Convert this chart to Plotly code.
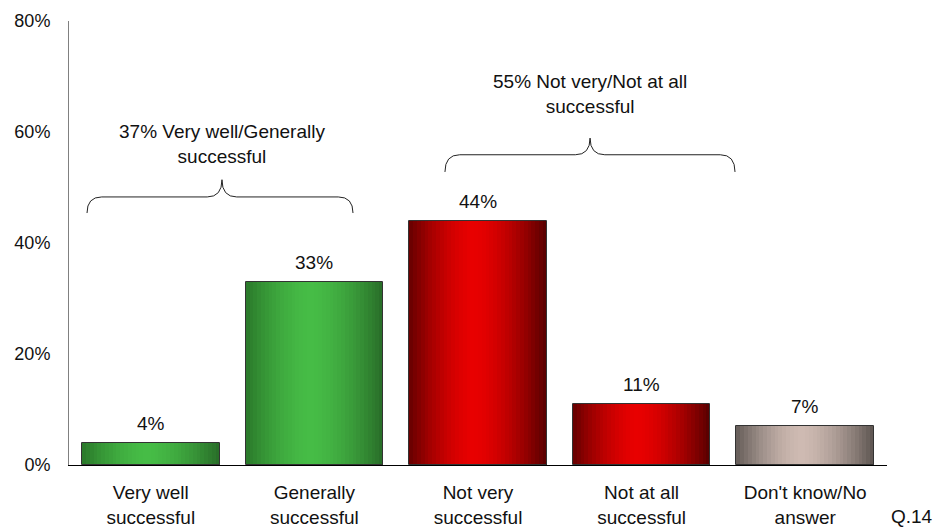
import plotly.graph_objects as go

# ---- data ----
categories = ["Very well<br>successful", "Generally<br>successful", "Not very<br>successful",
              "Not at all<br>successful", "Don't know/No<br>answer"]
values = [4, 33, 44, 11, 7]
y_ticks = [0, 20, 40, 60, 80]
y_tick_labels = ["0%", "20%", "40%", "60%", "80%"]
group_labels = ["37% Very well/Generally<br>successful", "55% Not very/Not at all<br>successful"]

# ---- styles ----
FONT = "Liberation Sans, Arial, Helvetica, sans-serif"
FS = 19
# (left edge, centre, right edge) colours per category
palettes = [
    ((42, 120, 42), (70, 188, 70), (40, 108, 40)),
    ((42, 120, 42), (70, 188, 70), (40, 108, 40)),
    ((102, 0, 0), (232, 0, 0), (86, 0, 0)),
    ((102, 0, 0), (232, 0, 0), (86, 0, 0)),
    ((100, 92, 88), (206, 186, 178), (92, 84, 80)),
]
BAR_W = 0.84
N = 36
PEAK = 0.47

xs = list(range(len(values)))


def mix(a, b, t):
    return tuple(int(round(a[k] + (b[k] - a[k]) * t)) for k in range(3))


def strip_color(pal, p):
    left, mid, right = pal
    if p <= PEAK:
        d = (PEAK - p) / PEAK
        return mix(mid, left, d ** 1.6)
    d = (p - PEAK) / (1 - PEAK)
    return mix(mid, right, d ** 1.6)


fig = go.Figure()
sw = BAR_W / N
for i in range(N):
    p = (i + 0.5) / N
    cols = ["rgb(%d,%d,%d)" % strip_color(pal, p) for pal in palettes]
    off = -BAR_W / 2 + i * sw
    w = sw * 1.8 if i < N - 1 else sw
    fig.add_trace(go.Bar(x=xs, y=values, width=w, offset=off,
                         marker=dict(color=cols, line=dict(width=0)),
                         hoverinfo="skip", showlegend=False))

# outline
fig.add_trace(go.Bar(x=xs, y=values, width=BAR_W,
                     marker=dict(color="rgba(0,0,0,0)", line=dict(color="#333333", width=1)),
                     showlegend=False))

# value labels
for x, v in zip(xs, values):
    fig.add_annotation(x=x, y=v, text=f"{v}%", showarrow=False, yanchor="bottom",
                       yshift=7, font=dict(family=FONT, size=FS, color="#111111"))

# braces (data coordinates): x_left, x_tip, x_right, y_end, y_mid, y_tip
braces = [(-0.39, 0.435, 1.236, 45.4, 48.3, 51.4),
          (1.798, 2.685, 3.571, 52.8, 55.9, 58.9)]
label_shift = [11, 19]
for (xl, xt, xr, ye, ym, ytp), lab, ys in zip(braces, group_labels, label_shift):
    r = 0.09
    path = (f"M {xl},{ye} Q {xl},{ym} {xl + r},{ym} L {xt - r},{ym} "
            f"Q {xt},{ym} {xt},{ytp} Q {xt},{ym} {xt + r},{ym} L {xr - r},{ym} Q {xr},{ym} {xr},{ye}")
    fig.add_shape(type="path", path=path, xref="x", yref="y",
                  line=dict(color="#222222", width=1))
    fig.add_annotation(x=xt, y=ytp, text=lab, showarrow=False, yanchor="bottom", yshift=ys,
                       font=dict(family=FONT, size=FS, color="#111111"))

fig.add_annotation(x=1.03, y=-0.117, xref="paper", yref="paper", text="Q.14", showarrow=False,
                   xanchor="center", yanchor="middle", font=dict(family=FONT, size=FS, color="#111111"))

fig.update_layout(
    width=935, height=531,
    margin=dict(l=69, r=48, t=21, b=66, autoexpand=False),
    barmode="overlay", bargap=0,
    plot_bgcolor="white", paper_bgcolor="white",
    font=dict(family=FONT, size=FS, color="#111111"),
    xaxis=dict(range=[-0.5, 4.5], tickvals=xs, ticktext=categories, showgrid=False, zeroline=False,
               showline=True, linecolor="#000000", linewidth=1, ticks="", ticklabelstandoff=10,
               automargin=False, fixedrange=True),
    yaxis=dict(range=[0, 80], tickvals=y_ticks, ticktext=y_tick_labels, showgrid=False, zeroline=False,
               showline=True, linecolor="#808080", linewidth=1, ticks="", ticklabelstandoff=14,
               tickfont=dict(size=18), automargin=False, fixedrange=True),
)

fig.write_html("out.html")
